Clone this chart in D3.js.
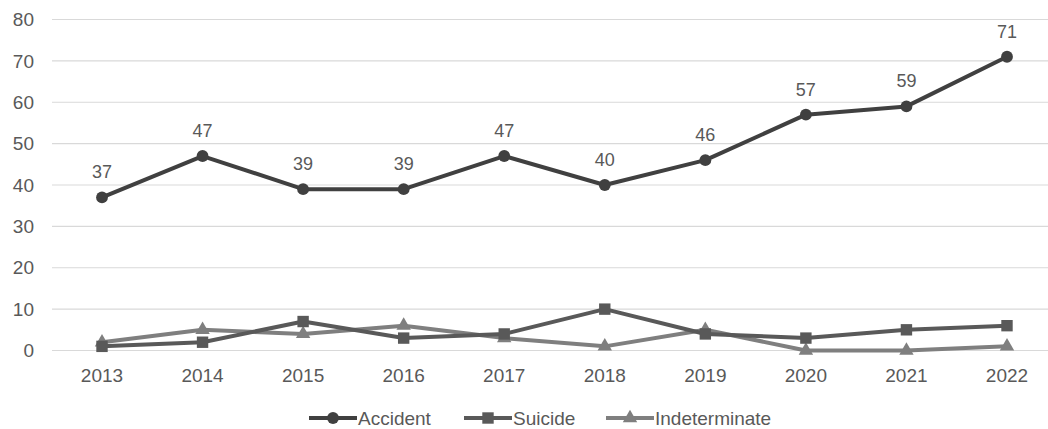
<!DOCTYPE html>
<html><head><meta charset="utf-8">
<script src="https://cdn.jsdelivr.net/npm/d3@7"></script>
<style>body{margin:0;background:#fff}svg{display:block}text{font-family:"Liberation Sans",Arial,sans-serif;fill:#595959}</style>
</head><body><svg id="c" width="1048" height="429"></svg>
<script>
const years = ["2013","2014","2015","2016","2017","2018","2019","2020","2021","2022"];
const accident = [37,47,39,39,47,40,46,57,59,71];
const suicide = [1,2,7,3,4,10,4,3,5,6];
const indeterminate = [2,5,4,6,3,1,5,0,0,1];
const yTicks = [0,10,20,30,40,50,60,70,80];

const svg = d3.select("#c");
const x = d3.scalePoint().domain(years).range([102, 1007]);
const y = d3.scaleLinear().domain([0,80]).range([350.5, 19.5]);

svg.append("g").selectAll("line").data(yTicks).join("line")
  .attr("x1",52).attr("x2",1048).attr("y1",d=>y(d)).attr("y2",d=>y(d))
  .attr("stroke","#d9d9d9").attr("stroke-width",1.2);

svg.append("g").selectAll("text").data(yTicks).join("text")
  .attr("x",34).attr("y",d=>y(d)).attr("dy","0.35em").attr("text-anchor","end")
  .attr("font-size",19).text(d=>d);

svg.append("g").selectAll("text").data(years).join("text")
  .attr("x",d=>x(d)).attr("y",382).attr("text-anchor","middle")
  .attr("font-size",19).text(d=>d);

const series = [
  {name:"Accident", values:accident, color:"#404040", shape:d3.symbolCircle, size:110},
  {name:"Suicide", values:suicide, color:"#595959", shape:d3.symbolSquare, size:130},
  {name:"Indeterminate", values:indeterminate, color:"#7f7f7f", shape:d3.symbolTriangle, size:90}
];

const line = d3.line().x((d,i)=>x(years[i])).y(d=>y(d));
[series[2], series[1], series[0]].forEach(s=>{
  svg.append("path").datum(s.values).attr("d",line)
    .attr("fill","none").attr("stroke",s.color).attr("stroke-width",4).attr("stroke-linejoin","round");
  svg.append("g").selectAll("path").data(s.values).join("path")
    .attr("transform",(d,i)=>`translate(${x(years[i])},${y(d)})`)
    .attr("d",d3.symbol().type(s.shape).size(s.size)).attr("fill",s.color);
});

svg.append("g").selectAll("text").data(accident).join("text")
  .attr("x",(d,i)=>x(years[i])).attr("y",d=>y(d)-19).attr("text-anchor","middle")
  .attr("font-size",18).text(d=>d);

const legX = [309, 464, 606];
const lg = svg.append("g");
series.forEach((s,i)=>{
  const g = lg.append("g").attr("transform",`translate(${legX[i]},418)`);
  g.append("line").attr("x1",0).attr("x2",48).attr("stroke",s.color).attr("stroke-width",4);
  g.append("path").attr("transform","translate(24,0)").attr("d",d3.symbol().type(s.shape).size(s.size)).attr("fill",s.color);
  g.append("text").attr("x",49).attr("dy","0.35em").attr("font-size",19).text(s.name);
});
</script></body></html>
